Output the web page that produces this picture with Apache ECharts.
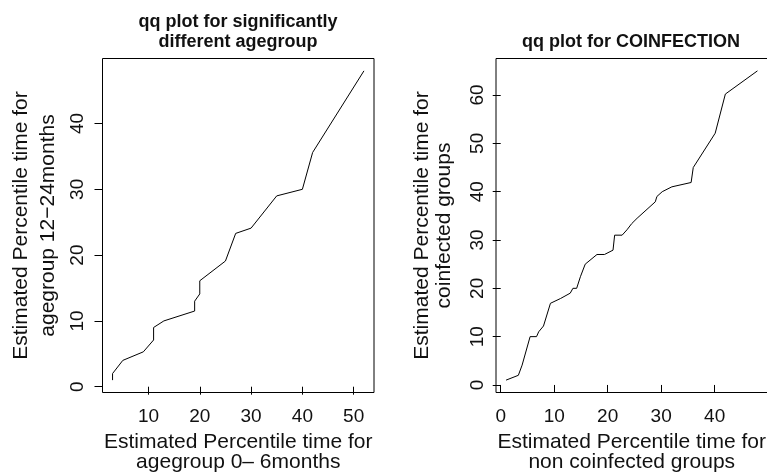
<!DOCTYPE html>
<html>
<head>
<meta charset="utf-8">
<script src="https://cdn.jsdelivr.net/npm/echarts@6/dist/echarts.min.js"></script>
<style>
html,body{margin:0;padding:0;background:#fff;}
#chart{width:767px;height:473px;}
</style>
</head>
<body>
<div id="chart"></div>
<script>
// Left panel: agegroup 0-6 months vs 12-24 months
const leftX = [3, 3, 5, 9, 11, 11, 13, 19, 19, 20, 20, 25, 27, 30, 35, 40, 42, 52];
const leftY = [1, 2, 4, 5.3, 7.1, 9, 10, 11.5, 13, 14.1, 16.1, 19.1, 23.3, 24.1, 29, 30, 35.6, 48];
// Right panel: non coinfected vs coinfected
const rightX = [1, 3.3, 4, 5.5, 6.7, 7.1, 8, 9.3, 11.2, 13, 13.5, 14.2, 14.9, 15.8, 18, 19.4, 21, 21.3, 22.7, 23.6, 24.5, 25.5, 28.9, 29.2, 30.2, 32, 35.6, 36, 40.1, 42, 48];
const rightY = [1, 2, 4.1, 10, 10, 11, 12.2, 16.9, 17.9, 19, 20, 20, 22.4, 25, 27, 27, 27.9, 31, 31, 32.1, 33.4, 34.5, 37.9, 39, 40, 41, 41.9, 45, 52.1, 60.2, 65];

const leftXTicks = [10, 20, 30, 40, 50];
const leftYTicks = [0, 10, 20, 30, 40];
const rightXTicks = [0, 10, 20, 30, 40];
const rightYTicks = [0, 10, 20, 30, 40, 50, 60];

const titles = ['qq plot for significantly\ndifferent agegroup', 'qq plot for COINFECTION'];
const xNames = ['Estimated Percentile time for\nagegroup 0\u2013 6months', 'Estimated Percentile time for\nnon coinfected groups'];
const yNames = ['Estimated Percentile time for\nagegroup 12\u221224months', 'Estimated Percentile time for\ncoinfected groups'];

function pad(arr) {
  const lo = Math.min(...arr), hi = Math.max(...arr);
  const d = (hi - lo) * 0.04;
  return [lo - d, hi + d];
}

const FONT = 'Liberation Sans, Arial, Helvetica, sans-serif';
const TXT = '#111';

function xAxis(gi, data, ticks, name) {
  const r = pad(data);
  return {
    type: 'value', gridIndex: gi, min: r[0], max: r[1],
    splitLine: { show: false },
    axisLine: { show: false },
    axisTick: { show: true, inside: false, length: 8, customValues: ticks, lineStyle: { color: '#000', width: 1 } },
    axisLabel: { customValues: ticks, fontSize: 19, color: TXT, fontFamily: FONT, margin: 15 },
    name: name, nameLocation: 'middle', nameGap: 40,
    nameTextStyle: { fontSize: 21, color: TXT, fontFamily: FONT, lineHeight: 20 }
  };
}
function yAxis(gi, data, ticks, name, labMargin, nameGap, lh) {
  const r = pad(data);
  return {
    type: 'value', gridIndex: gi, min: r[0], max: r[1],
    splitLine: { show: false },
    axisLine: { show: false },
    axisTick: { show: true, inside: false, length: 8, customValues: ticks, lineStyle: { color: '#000', width: 1 } },
    axisLabel: { customValues: ticks, fontSize: 19, color: TXT, fontFamily: FONT, rotate: 90, margin: labMargin },
    name: name, nameLocation: 'middle', nameGap: nameGap, nameRotate: 90,
    nameTextStyle: { fontSize: 21, color: TXT, fontFamily: FONT, lineHeight: lh }
  };
}

function zip(a, b) { return a.map((v, i) => [v, b[i]]); }

const chart = echarts.init(document.getElementById('chart'), null, { renderer: 'canvas' });
chart.setOption({
  backgroundColor: '#fff',
  animation: false,
  title: [
    { text: titles[0], left: 238, top: 12, textAlign: 'center', padding: 0,
      textStyle: { fontSize: 18, fontWeight: 'bold', color: TXT, fontFamily: FONT, lineHeight: 20 } },
    { text: titles[1], left: 631, top: 32, textAlign: 'center', padding: 0,
      textStyle: { fontSize: 18, fontWeight: 'bold', color: TXT, fontFamily: FONT, lineHeight: 20 } }
  ],
  grid: [
    { left: 102.5, top: 58.5, width: 271.5, height: 334, show: true, borderColor: '#000', borderWidth: 1, backgroundColor: 'transparent', containLabel: false, outerBoundsMode: 'none' },
    { left: 496, top: 58.5, width: 271.5, height: 334, show: true, borderColor: '#000', borderWidth: 1, backgroundColor: 'transparent', containLabel: false, outerBoundsMode: 'none' }
  ],
  xAxis: [
    xAxis(0, leftX, leftXTicks, xNames[0]),
    xAxis(1, rightX, rightXTicks, xNames[1])
  ],
  yAxis: [
    yAxis(0, leftY, leftYTicks, yNames[0], 15, 41, 27),
    yAxis(1, rightY, rightYTicks, yNames[1], 9, 41, 22)
  ],
  series: [
    { type: 'line', xAxisIndex: 0, yAxisIndex: 0, data: zip(leftX, leftY), showSymbol: false, symbol: 'none',
      lineStyle: { color: '#000', width: 1 }, silent: true },
    { type: 'line', xAxisIndex: 1, yAxisIndex: 1, data: zip(rightX, rightY), showSymbol: false, symbol: 'none',
      lineStyle: { color: '#000', width: 1 }, silent: true }
  ]
});
</script>
</body>
</html>
